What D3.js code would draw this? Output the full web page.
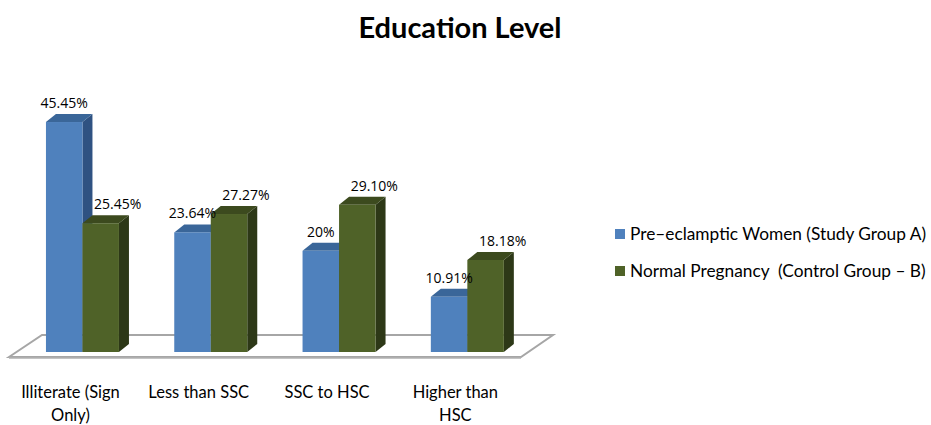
<!DOCTYPE html>
<meta charset="utf-8">
<style>
body { margin: 0; background: #fff; }
.title { font: bold 29px Lato, "Open Sans", sans-serif; text-anchor: middle; fill: #000; }
.cat { font: 16.5px Lato, "Open Sans", sans-serif; text-anchor: middle; fill: #000; }
.val { font: 14px "Open Sans", "DejaVu Sans", sans-serif; text-anchor: middle; fill: #000; }
.legend { font: 17.3px Lato, "Open Sans", sans-serif; fill: #000; }
</style>
<svg width="931" height="425"></svg>
<script src="https://cdn.jsdelivr.net/npm/d3@7"></script>
<script>

var categories = ["Illiterate (Sign|Only)", "Less than SSC", "SSC to HSC", "Higher than|HSC"];
var series = ["Pre\u2013eclamptic Women (Study Group A)", "Normal Pregnancy  (Control Group \u2013 B)"];
var groupA = [45.45, 23.64, 20, 10.91];
var groupB = [25.45, 27.27, 29.10, 18.18];
var labelsA = ["45.45%", "23.64%", "20%", "10.91%"];
var labelsB = ["25.45%", "27.27%", "29.10%", "18.18%"];

var colors = [
  { front: "#4F81BD", side: "#2F5282", top: "#3A6699" },
  { front: "#4F6228", side: "#2D3817", top: "#3C4A1E" }
];

var svg = d3.select("svg");
var base = 352, dx = 10, dy = -8;

var x0 = d3.scaleBand().domain(categories).range([20.3, 529.5])
    .paddingInner(0.431).paddingOuter(0.2);
var x1 = d3.scaleBand().domain(series).range([0, x0.bandwidth()]);
var y = d3.scaleLinear().domain([0, 50]).range([base, base - 253]);

svg.append("text").attr("class", "title").attr("x", 460).attr("y", 38).text("Education Level");

// floor
svg.append("path")
  .attr("d", "M9,357 L42,335 L553,335 L521,357 Z")
  .attr("fill", "#fff").attr("stroke", "#A6A6A6").attr("stroke-width", 2);
svg.append("line").attr("x1", 9).attr("x2", 521).attr("y1", 358).attr("y2", 358)
  .attr("stroke", "#B0B0B0").attr("stroke-width", 1.5);

var rows = [];
categories.forEach(function(c, i) {
  rows.push({ cat: c, s: 0, v: groupA[i], label: labelsA[i] });
  rows.push({ cat: c, s: 1, v: groupB[i], label: labelsB[i] });
});

var bars = svg.append("g").selectAll("g").data(rows).enter().append("g");

bars.each(function(d) {
  var g = d3.select(this);
  var xl = x0(d.cat) + x1(series[d.s]), w = x1.bandwidth(), top = y(d.v);
  var c = colors[d.s];
  g.append("polygon")
    .attr("points", [[xl + w, top], [xl + w + dx, top + dy], [xl + w + dx, base + dy], [xl + w, base]].join(" "))
    .attr("fill", c.side);
  g.append("polygon")
    .attr("points", [[xl, top], [xl + dx, top + dy], [xl + w + dx, top + dy], [xl + w, top]].join(" "))
    .attr("fill", c.top);
  g.append("rect").attr("x", xl).attr("y", top).attr("width", w).attr("height", base - top)
    .attr("fill", c.front);
});

svg.append("g").selectAll("text").data(rows).enter().append("text")
  .attr("class", "val")
  .attr("x", function(d) { return x0(d.cat) + x1(series[d.s]) + x1.bandwidth() / 2 + (d.s ? 17 : 0); })
  .attr("y", function(d) { return y(d.v) - 14; })
  .text(function(d) { return d.label; });

var cat = svg.append("g").selectAll("text").data(categories).enter().append("text")
  .attr("class", "cat")
  .attr("x", function(d) { return x0(d) + x0.bandwidth() / 2 - 12; })
  .attr("y", 398);
cat.selectAll("tspan").data(function(d) { return d.split("|"); }).enter().append("tspan")
  .attr("x", function() { return d3.select(this.parentNode).attr("x"); })
  .attr("dy", function(d, i) { return i ? 23 : 0; })
  .text(function(d) { return d; });

var leg = svg.append("g").selectAll("g").data(series).enter().append("g")
  .attr("transform", function(d, i) { return "translate(615," + (229 + i * 37) + ")"; });
leg.append("rect").attr("width", 10).attr("height", 10)
  .attr("fill", function(d, i) { return colors[i].front; });
leg.append("text").attr("class", "legend").attr("x", 15).attr("y", 10.5)
  .attr("xml:space", "preserve").style("white-space", "pre")
  .text(function(d) { return d; });

</script>
